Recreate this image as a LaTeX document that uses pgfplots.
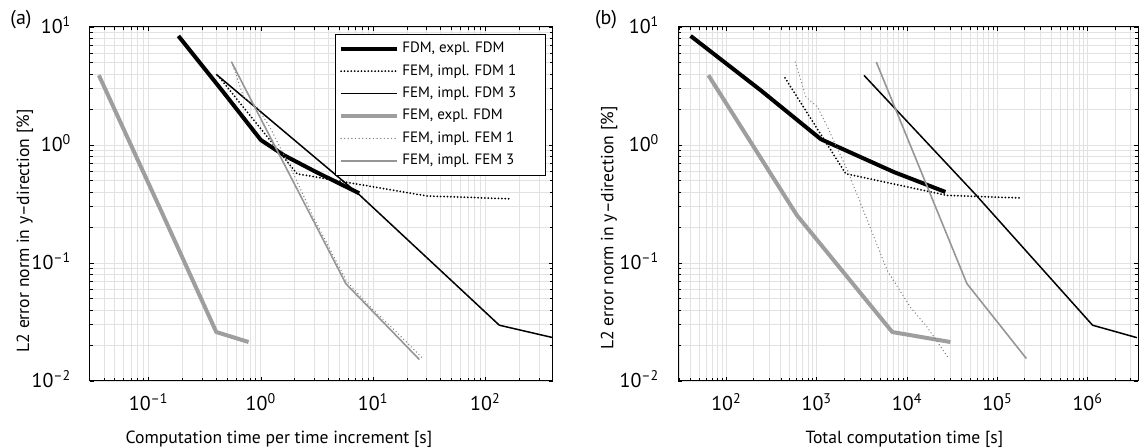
\documentclass[border=0pt]{standalone}
\usepackage{pgfplots}
\pgfplotsset{compat=1.18}
\usepackage{fontspec}
\setmainfont{PT Sans}
\definecolor{mgray}{RGB}{158,158,158}
\definecolor{lgray}{RGB}{150,150,150}
\definecolor{dgray}{RGB}{125,125,125}
\definecolor{gridc}{RGB}{226,226,226}

\pgfplotsset{
 every axis/.append style={
  scale only axis, height=177pt,
  ymin=0.01, ymax=10,
  ytick={0.01,0.1,1,10},
  yticklabels={10\textsuperscript{–2},10\textsuperscript{–1},10\textsuperscript{0},10\textsuperscript{1}},
  minor ytick={0.02,0.03,0.04,0.05,0.06,0.07,0.08,0.09,0.2,0.3,0.4,0.5,0.6,0.7,0.8,0.9,2,3,4,5,6,7,8,9},
  grid=both,
  major grid style={gridc, line width=0.45pt},
  minor grid style={gridc, line width=0.45pt},
  tick align=inside, major tick length=2.2pt, minor tick length=1.3pt,
  every tick/.style={black, line width=0.4pt},
  axis line style={line width=0.5pt},
  tick label style={font=\fontsize{10}{11}\selectfont},
  label style={font=\fontsize{8.8}{10}\selectfont},
  xticklabel style={yshift=-2.8pt},
  yticklabel style={anchor=base east, xshift=-5.8pt, yshift=-3.5pt},
 },
}
\tikzset{
 s1/.style={black, line width=2pt, line join=round},
 s2/.style={black, line width=1pt, line cap=round, dash pattern=on 0pt off 1.7pt},
 s3/.style={black, line width=0.75pt, line join=round},
 s4/.style={mgray, line width=2pt, line join=round},
 s5/.style={dgray, line width=0.7pt, line cap=round, dash pattern=on 0pt off 1.8pt},
 s6/.style={lgray, line width=0.8pt, line join=round},
}

\begin{document}
\begin{tikzpicture}
\useasboundingbox (0pt,0pt) rectangle (570pt,224pt);

\begin{loglogaxis}[
  at={(45pt,33.5pt)}, anchor=south west, width=231.5pt,
  xmin=0.03, xmax=400,
  xtick={0.1,1,10,100},
  xticklabels={10\textsuperscript{–1},10\textsuperscript{0},10\textsuperscript{1},10\textsuperscript{2}},
  minor xtick={0.04,0.05,0.06,0.07,0.08,0.09,0.2,0.3,0.4,0.5,0.6,0.7,0.8,0.9,2,3,4,5,6,7,8,9,20,30,40,50,60,70,80,90,200,300},
  xlabel={Computation time per time increment [s]},
  xlabel style={at={(axis description cs:0.408,-0.164)}, anchor=center},
  ylabel={L2 error norm in y–direction [\%]},
  ylabel style={at={(axis description cs:-0.1404,0.424)}, anchor=center},
  legend style={at={(rel axis cs:1,1)}, anchor=north east, xshift=-3.5pt, yshift=-3.5pt,
    font=\fontsize{7.5}{8}\selectfont, draw=black, line width=0.5pt,
    inner xsep=2pt, inner ysep=1.5pt, row sep=0pt, fill=white,
    nodes={inner ysep=2.2pt, inner xsep=1.6pt}},
  legend cell align=left,
  legend image code/.code={\draw[#1] (0pt,0pt) -- (28pt,0pt);},
]
\addplot[s1] coordinates {(0.184,8.4) (0.45,2.9) (1.0,1.1) (1.6,0.82) (3.0,0.6) (7.5,0.39)};
\addlegendentry{\makebox[68pt][l]{FDM, expl. FDM}}
\addplot[s2] coordinates {(0.43,3.7) (2.1,0.57) (30,0.37) (166,0.35)};
\addlegendentry{FEM, impl. FDM 1}
\addplot[s3] coordinates {(0.40,3.97) (7.5,0.38) (133,0.0297) (400,0.0233)};
\addlegendentry{FEM, impl. FDM 3}
\addplot[s4] coordinates {(0.036,3.9) (0.133,0.26) (0.40,0.026) (0.776,0.0214)};
\addlegendentry{FEM, expl. FDM}
\addplot[s5] coordinates {(0.55,5.05) (0.70,2.55) (0.92,2.1) (1.2,1.42) (1.9,0.6) (2.9,0.25) (5.8,0.07) (10,0.04) (15.5,0.027) (27.7,0.0155)};
\addlegendentry{FEM, impl. FEM 1}
\addplot[s6] coordinates {(0.547,5.05) (5.71,0.0668) (25.8,0.0152)};
\addlegendentry{FEM, impl. FEM 3}
\end{loglogaxis}

\begin{loglogaxis}[
  at={(339pt,33.5pt)}, anchor=south west, width=230pt,
  xmin=29, xmax=3.6e6,
  xtick={100,1000,10000,100000,1000000},
  xticklabels={10\textsuperscript{2},10\textsuperscript{3},10\textsuperscript{4},10\textsuperscript{5},10\textsuperscript{6}},
  minor xtick={30,40,50,60,70,80,90,200,300,400,500,600,700,800,900,2000,3000,4000,5000,6000,7000,8000,9000,20000,30000,40000,50000,60000,70000,80000,90000,200000,300000,400000,500000,600000,700000,800000,900000,2000000,3000000},
  xlabel={Total computation time [s]},
  xlabel style={at={(axis description cs:0.492,-0.164)}, anchor=center},
  ylabel={L2 error norm in y–direction [\%]},
  ylabel style={at={(axis description cs:-0.15,0.432)}, anchor=center},
]
\addplot[s1] coordinates {(40,8.4) (240,2.9) (1107,1.12) (3050,0.79) (7130,0.59) (26500,0.40)};
\addplot[s2] coordinates {(444,3.7) (2090,0.571) (27600,0.374) (174000,0.356)};
\addplot[s3] coordinates {(3330,3.89) (57300,0.38) (1130000,0.0297) (3500000,0.0233)};
\addplot[s4] coordinates {(63,3.9) (601,0.254) (6840,0.026) (30100,0.0214)};
\addplot[s5] coordinates {(577,5.05) (757,2.55) (1017,2.1) (1312,1.42) (2180,0.61) (3620,0.23) (6010,0.0866) (10900,0.042) (16600,0.0287) (28900,0.0155)};
\addplot[s6] coordinates {(4550,5.05) (45900,0.0668) (209000,0.0155)};
\end{loglogaxis}

\node[font=\fontsize{10}{11}\selectfont] at (10.5pt,214pt) {(a)};
\node[font=\fontsize{10}{11}\selectfont] at (303pt,214pt) {(b)};
\end{tikzpicture}
\end{document}
